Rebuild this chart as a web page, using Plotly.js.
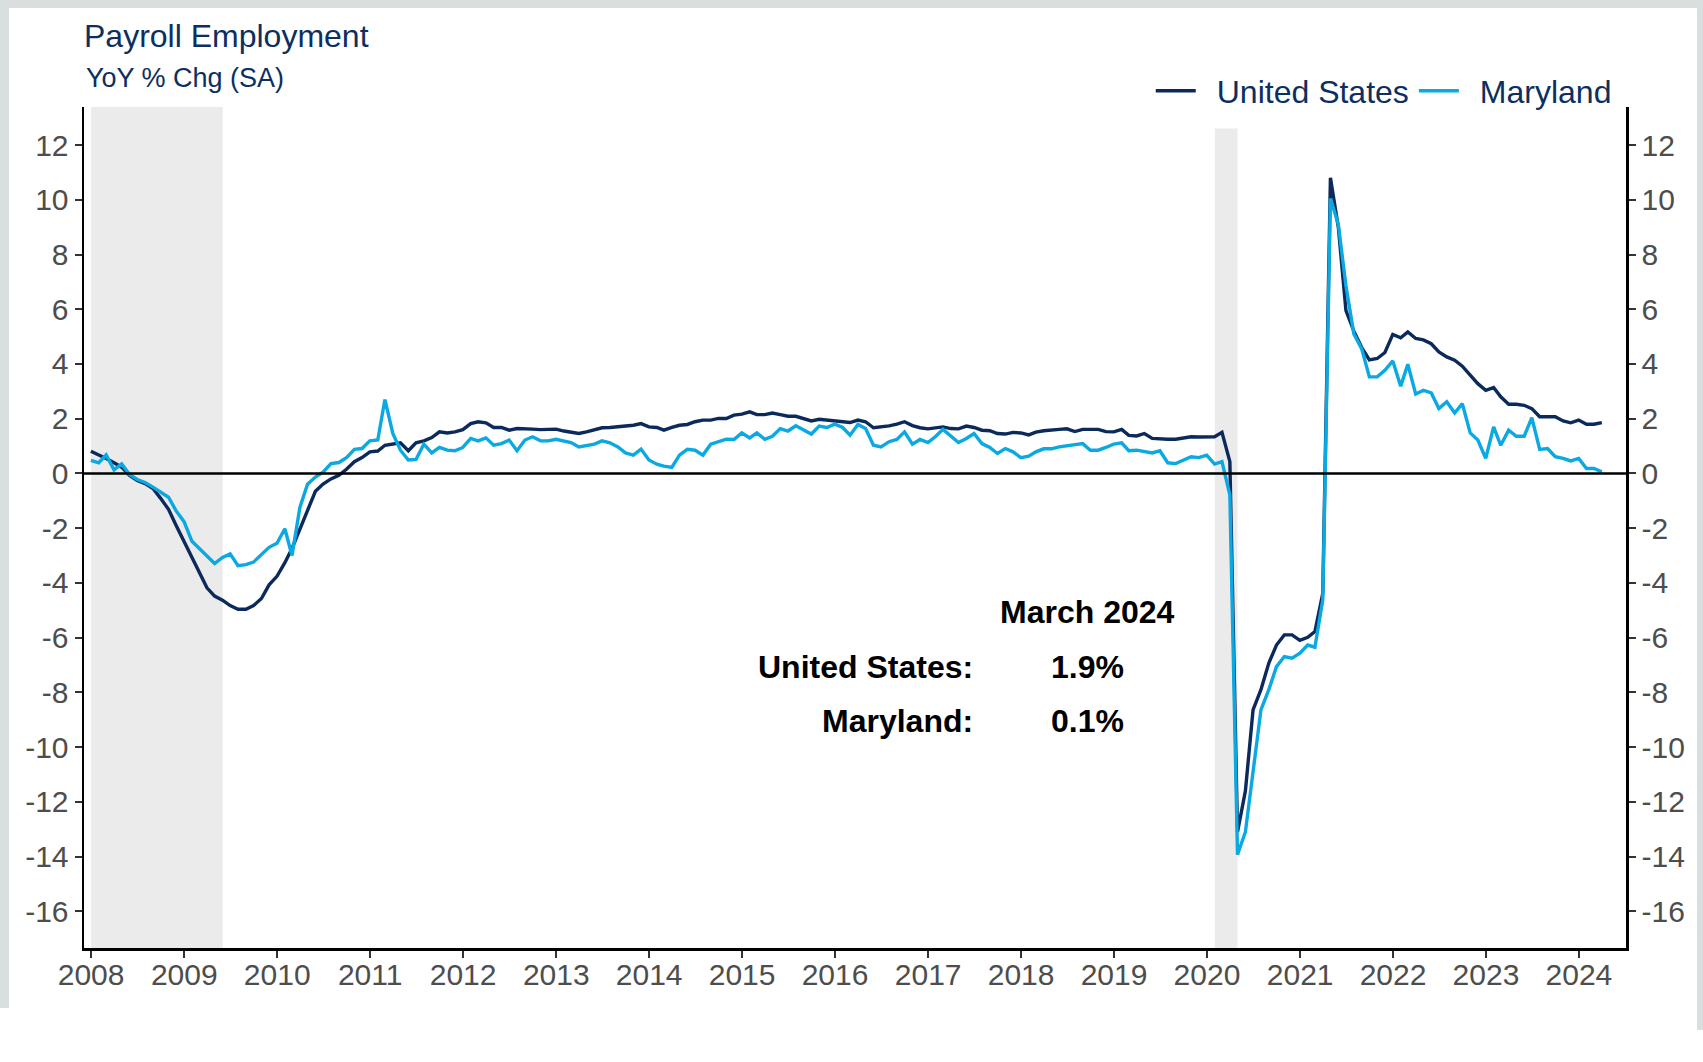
<!DOCTYPE html>
<html>
<head>
<meta charset="utf-8">
<script src="https://cdn.plot.ly/plotly-3.0.1.min.js"></script>
<style>
  html, body { margin: 0; padding: 0; background: #ffffff; }
  #wrap { position: relative; width: 1703px; height: 1062px; overflow: hidden; }
  #chart { position: absolute; left: 0; top: 0; width: 1703px; height: 1062px; }
  .edge { position: absolute; background: #d9dfdf; pointer-events: none; }
</style>
</head>
<body>
<div id="wrap">
  <div id="chart"></div>
  <div class="edge" style="left:0;top:0;width:1703px;height:8px;"></div>
  <div class="edge" style="left:0;top:0;width:9px;height:1008px;"></div>
  <div class="edge" style="left:1697px;top:0;width:6px;height:1030px;"></div>
</div>
<script>
// Monthly series, Dec 2007 .. Mar 2024 (month-end dates)
const firstYear = 2007, firstMonth = 12;

const unitedStates = [
  0.81,
  0.68,0.55,0.39,0.23,-0.07,-0.26,-0.37,-0.55,-0.91,-1.31,-1.90,-2.48,
  -3.07,-3.62,-4.18,-4.48,-4.63,-4.83,-4.96,-4.96,-4.83,-4.57,-4.07,-3.76,
  -3.26,-2.74,-2.02,-1.31,-0.65,-0.39,-0.20,-0.07,0.15,0.43,0.58,0.79,
  0.82,1.03,1.07,1.12,0.83,1.12,1.19,1.31,1.52,1.48,1.52,1.60,
  1.82,1.89,1.85,1.68,1.68,1.58,1.64,1.64,1.62,1.60,1.60,1.62,
  1.55,1.52,1.46,1.52,1.60,1.67,1.68,1.70,1.72,1.76,1.82,1.70,
  1.68,1.58,1.68,1.76,1.79,1.89,1.95,1.95,2.01,2.01,2.13,2.17,
  2.25,2.15,2.15,2.21,2.15,2.09,2.09,2.01,1.92,1.98,1.95,1.95,
  1.91,1.86,1.95,1.89,1.67,1.70,1.74,1.80,1.89,1.75,1.67,1.63,
  1.68,1.70,1.64,1.63,1.73,1.68,1.58,1.56,1.46,1.44,1.50,1.48,
  1.41,1.51,1.56,1.57,1.61,1.63,1.53,1.61,1.61,1.61,1.53,1.52,
  1.61,1.39,1.37,1.46,1.28,1.25,1.25,1.25,1.29,1.34,1.33,1.34,
  1.34,1.50,0.43,-13.1,-11.6,-8.64,-7.90,-6.93,-6.27,-5.90,-5.90,-6.10,
  -5.99,-5.78,-4.38,10.8,9.0,5.95,5.2,4.6,4.15,4.2,4.42,5.08,
  4.96,5.17,4.93,4.88,4.74,4.44,4.26,4.14,3.92,3.59,3.28,3.04,
  3.14,2.8,2.53,2.53,2.49,2.37,2.07,2.07,2.07,1.92,1.85,1.95,
  1.8,1.8,1.86
];

const maryland = [
  0.48,
  0.39,0.68,0.13,0.35,-0.04,-0.22,-0.33,-0.50,-0.69,-0.87,-1.37,-1.76,
  -2.48,-2.74,-3.00,-3.29,-3.07,-2.94,-3.37,-3.33,-3.24,-2.98,-2.70,-2.55,
  -2.02,-3.00,-1.24,-0.39,-0.13,0.05,0.36,0.40,0.58,0.88,0.91,1.19,
  1.22,2.70,1.46,0.85,0.49,0.51,1.07,0.75,0.95,0.85,0.83,0.95,
  1.28,1.19,1.30,1.03,1.09,1.22,0.83,1.22,1.34,1.19,1.19,1.25,
  1.18,1.13,0.97,1.03,1.07,1.19,1.12,0.97,0.75,0.67,0.89,0.49,
  0.34,0.27,0.22,0.67,0.88,0.85,0.67,1.07,1.16,1.25,1.24,1.48,
  1.30,1.48,1.25,1.36,1.64,1.55,1.74,1.58,1.44,1.73,1.68,1.80,
  1.68,1.40,1.79,1.64,1.03,0.97,1.16,1.24,1.52,1.07,1.24,1.13,
  1.36,1.61,1.36,1.13,1.28,1.46,1.09,0.95,0.73,0.91,0.79,0.58,
  0.63,0.79,0.90,0.90,0.97,1.01,1.07,1.09,0.85,0.85,0.95,1.07,
  1.12,0.83,0.85,0.79,0.75,0.83,0.39,0.36,0.49,0.61,0.58,0.67,
  0.34,0.43,-0.79,-13.93,-13.1,-10.9,-8.64,-7.90,-7.06,-6.69,-6.75,-6.57,
  -6.27,-6.35,-4.62,10.05,9.1,6.85,5.1,4.55,3.53,3.53,3.77,4.11,
  3.19,3.99,2.90,3.04,2.94,2.37,2.62,2.21,2.55,1.48,1.22,0.55,
  1.70,1.03,1.58,1.36,1.36,2.04,0.88,0.91,0.61,0.55,0.46,0.55,
  0.18,0.18,0.06
];

const seriesNames = ['United States', 'Maryland'];

const recessions = [
  { start: '2008-01-01', end: '2009-06-01', top: null },
  { start: '2020-02-01', end: '2020-04-30', top: 12.6 }
];

const yTicks = [-16,-14,-12,-10,-8,-6,-4,-2,0,2,4,6,8,10,12];
const latestLabel = 'March 2024';

// month-end dates
function monthEnd(i) {
  const m0 = firstMonth - 1 + i;
  const y = firstYear + Math.floor(m0 / 12);
  const m = (m0 % 12) + 1;
  const d = new Date(Date.UTC(y, m, 0));
  return d.toISOString().slice(0, 10);
}
const dates = unitedStates.map((_, i) => monthEnd(i));

const FONT = 'Arial, "Liberation Sans", sans-serif';
const NAVY = '#0c2f5f';
const US_COLOR = '#0b2a5b';
const MD_COLOR = '#0aa9e2';
const TICK_GREY = '#4d4d4d';
const GAP = '\u2002'; // spacing between legend key and its label

const traces = [
  { x: dates, y: unitedStates, name: GAP + seriesNames[0], type: 'scatter', mode: 'lines',
    line: { color: US_COLOR, width: 3.4 }, hoverinfo: 'skip' },
  { x: dates, y: maryland, name: GAP + seriesNames[1], type: 'scatter', mode: 'lines',
    line: { color: MD_COLOR, width: 3.4 }, hoverinfo: 'skip' },
  { x: dates, y: unitedStates, yaxis: 'y2', type: 'scatter', mode: 'lines',
    line: { color: 'rgba(0,0,0,0)', width: 0 }, showlegend: false, hoverinfo: 'skip' }
];

const yRange = [-17.34, 13.39];

const shapes = recessions.map(r => ({
  type: 'rect', xref: 'x', x0: r.start, x1: r.end,
  yref: r.top === null ? 'paper' : 'y',
  y0: r.top === null ? 0 : yRange[0],
  y1: r.top === null ? 1 : r.top,
  fillcolor: '#ebebeb', line: { width: 0 }, layer: 'below'
}));

const fmt = v => v.toFixed(1) + '%';
const lastUS = unitedStates[unitedStates.length - 1];
const lastMD = maryland[maryland.length - 1];

const annoFont = { family: FONT, size: 32, color: '#000000' };
const annotations = [
  { xref: 'paper', yref: 'paper', x: 0, y: 1.0345, xanchor: 'left', yanchor: 'middle',
    text: 'YoY % Chg (SA)', showarrow: false, font: { family: FONT, size: 27, color: NAVY } },
  { xref: 'paper', yref: 'paper', x: 0.6505, y: 0.3995, xanchor: 'center', yanchor: 'middle',
    text: '<b>' + latestLabel + '</b>', showarrow: false, font: annoFont },
  { xref: 'paper', yref: 'paper', x: 0.578, y: 0.3341, xanchor: 'right', yanchor: 'middle',
    text: '<b>' + seriesNames[0] + ':</b>', showarrow: false, font: annoFont },
  { xref: 'paper', yref: 'paper', x: 0.6505, y: 0.3341, xanchor: 'center', yanchor: 'middle',
    text: '<b>' + fmt(lastUS) + '</b>', showarrow: false, font: annoFont },
  { xref: 'paper', yref: 'paper', x: 0.578, y: 0.2699, xanchor: 'right', yanchor: 'middle',
    text: '<b>' + seriesNames[1] + ':</b>', showarrow: false, font: annoFont },
  { xref: 'paper', yref: 'paper', x: 0.6505, y: 0.2699, xanchor: 'center', yanchor: 'middle',
    text: '<b>' + fmt(lastMD) + '</b>', showarrow: false, font: annoFont }
];

const yAxisCommon = {
  range: yRange, tickvals: yTicks, ticktext: yTicks.map(String),
  showgrid: false, zeroline: false, showline: true, linecolor: '#000000', linewidth: 2.5,
  ticks: 'outside', ticklen: 7, tickwidth: 2, tickcolor: '#333333',
  tickfont: { family: FONT, size: 30, color: TICK_GREY }, fixedrange: true
};

const layout = {
  width: 1703, height: 1062,
  margin: { l: 84, r: 77, t: 107, b: 114, pad: 0 },
  paper_bgcolor: '#ffffff', plot_bgcolor: 'rgba(0,0,0,0)',
  title: { text: 'Payroll Employment', font: { family: FONT, size: 32, color: NAVY },
    xref: 'paper', x: 0, xanchor: 'left', yref: 'container', y: 1 - 36/1062, yanchor: 'middle' },
  showlegend: true,
  legend: { orientation: 'h', xref: 'paper', x: 0.994, xanchor: 'right', yref: 'paper', y: 1.019, yanchor: 'middle',
    itemwidth: 40,
    font: { family: FONT, size: 32, color: NAVY }, bgcolor: 'rgba(0,0,0,0)', traceorder: 'normal' },
  xaxis: {
    type: 'date', range: ['2007-12-04', '2024-07-04'],
    tick0: '2008-01-01', dtick: 'M12', tickformat: '%Y',
    showgrid: false, zeroline: false, showline: true, linecolor: '#000000', linewidth: 3,
    ticks: 'outside', ticklen: 7, tickwidth: 2, tickcolor: '#333333', ticklabelstandoff: -9,
    tickfont: { family: FONT, size: 30, color: TICK_GREY }, fixedrange: true
  },
  yaxis: Object.assign({}, yAxisCommon, { side: 'left' }),
  yaxis2: Object.assign({}, yAxisCommon, { side: 'right', overlaying: 'y', anchor: 'x' }),
  shapes: shapes.concat([
    { type: 'line', xref: 'paper', x0: 0, x1: 1, yref: 'y', y0: 0, y1: 0,
      line: { color: '#000000', width: 2.5 }, layer: 'above' }
  ]),
  annotations: annotations
};

Plotly.newPlot('chart', traces, layout, { displayModeBar: false, staticPlot: true });
</script>
</body>
</html>
